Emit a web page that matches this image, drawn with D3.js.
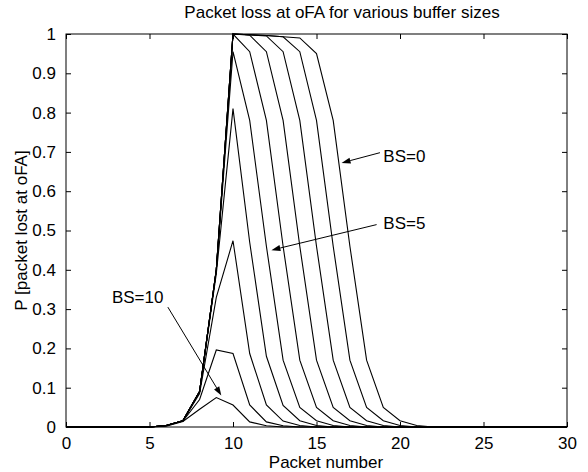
<!DOCTYPE html>
<html>
<head>
<meta charset="utf-8">
<script src="https://cdn.jsdelivr.net/npm/d3@7"></script>
<style>
  html, body { margin: 0; padding: 0; background: #fff; }
  svg text { font-family: "Liberation Sans", Arial, Helvetica, sans-serif; fill: #000; }
</style>
</head>
<body>
<svg id="chart" width="588" height="472"></svg>
<script>
// ---- data ----
const packetNumbers = d3.range(0, 31);
const bs0 = [0,0,0,0,0,0,0.004,0.016,0.09,0.40,1.000,0.998,0.996,0.993,0.990,0.950,0.780,0.460,0.170,0.050,0.016,0.004,0,0,0,0,0,0,0,0,0];
const bs1 = [0,0,0,0,0,0,0.004,0.016,0.09,0.40,1.000,0.998,0.996,0.993,0.955,0.780,0.460,0.170,0.050,0.016,0.004,0,0,0,0,0,0,0,0,0,0];
const bs2 = [0,0,0,0,0,0,0.004,0.016,0.09,0.40,1.000,0.998,0.995,0.955,0.780,0.460,0.170,0.050,0.016,0.004,0,0,0,0,0,0,0,0,0,0,0];
const bs3 = [0,0,0,0,0,0,0.004,0.016,0.09,0.40,1.000,0.997,0.955,0.780,0.460,0.170,0.050,0.016,0.004,0,0,0,0,0,0,0,0,0,0,0,0];
const bs4 = [0,0,0,0,0,0,0.004,0.016,0.09,0.40,1.000,0.955,0.780,0.460,0.170,0.050,0.016,0.004,0,0,0,0,0,0,0,0,0,0,0,0,0];
const bs5 = [0,0,0,0,0,0,0.004,0.016,0.09,0.40,0.955,0.780,0.460,0.170,0.050,0.016,0.004,0,0,0,0,0,0,0,0,0,0,0,0,0,0];
const bs6 = [0,0,0,0,0,0,0.004,0.016,0.09,0.39,0.810,0.470,0.180,0.055,0.016,0.004,0,0,0,0,0,0,0,0,0,0,0,0,0,0,0];
const bs7 = [0,0,0,0,0,0,0.004,0.016,0.085,0.33,0.474,0.187,0.056,0.015,0.004,0,0,0,0,0,0,0,0,0,0,0,0,0,0,0,0];
const bs8 = [0,0,0,0,0,0,0.003,0.015,0.07,0.196,0.187,0.056,0.013,0.003,0,0,0,0,0,0,0,0,0,0,0,0,0,0,0,0,0];
const bs9 = [0,0,0,0,0,0,0.002,0.014,0.045,0.075,0.056,0.013,0.003,0,0,0,0,0,0,0,0,0,0,0,0,0,0,0,0,0,0];
const seriesList = [bs0, bs1, bs2, bs3, bs4, bs5, bs6, bs7, bs8, bs9];

const xTicks = [0, 5, 10, 15, 20, 25, 30];
const yTicks = [0, 0.1, 0.2, 0.3, 0.4, 0.5, 0.6, 0.7, 0.8, 0.9, 1];
const yTickLabels = ["0", "0.1", "0.2", "0.3", "0.4", "0.5", "0.6", "0.7", "0.8", "0.9", "1"];

const titleText = "Packet loss at oFA for various buffer sizes";
const xLabelText = "Packet number";
const yLabelText = "P [packet lost at oFA]";

// annotations: label text, text anchor point (data units), arrow start and tip (data units)
const annotLabels = ["BS=0", "BS=5", "BS=10"];
const annotTextPos = [[19.0, 0.675], [19.0, 0.505], [2.75, 0.315]];
const annotFrom = [[18.8, 0.698], [18.6, 0.515], [6.1, 0.305]];
const annotTo = [[16.5, 0.672], [12.3, 0.450], [9.3, 0.080]];

// ---- layout ----
const margin = { left: 66, right: 21, top: 34, bottom: 45 };
const W = 588, H = 472;
const svg = d3.select("#chart");
const x = d3.scaleLinear().domain([0, 30]).range([margin.left, W - margin.right]);
const y = d3.scaleLinear().domain([0, 1]).range([H - margin.bottom, margin.top]);
const fs = 17;

// frame
svg.append("rect")
  .attr("x", x(0)).attr("y", y(1))
  .attr("width", x(30) - x(0)).attr("height", y(0) - y(1))
  .attr("fill", "none").attr("stroke", "#000").attr("stroke-width", 1);

// axes with inward ticks
const tickLen = 5;
const xAxisB = d3.axisBottom(x).tickValues(xTicks).tickSizeInner(-tickLen).tickSizeOuter(0).tickPadding(tickLen + 5).tickFormat(d3.format("d"));
const xAxisT = d3.axisTop(x).tickValues(xTicks).tickSizeInner(-tickLen).tickSizeOuter(0).tickFormat("");
const yAxisL = d3.axisLeft(y).tickValues(yTicks).tickSizeInner(-tickLen).tickSizeOuter(0).tickPadding(tickLen + 5).tickFormat((d, i) => yTickLabels[i]);
const yAxisR = d3.axisRight(y).tickValues(yTicks).tickSizeInner(-tickLen).tickSizeOuter(0).tickFormat("");

function styleAxis(g) {
  g.select(".domain").remove();
  g.selectAll(".tick line").attr("stroke", "#000");
  g.selectAll(".tick text").attr("font-size", fs).attr("font-family", "Liberation Sans, Arial, sans-serif").attr("fill", "#000");
}
svg.append("g").attr("transform", `translate(0,${y(0)})`).call(xAxisB).call(styleAxis);
svg.append("g").attr("transform", `translate(0,${y(1)})`).call(xAxisT).call(styleAxis);
svg.append("g").attr("transform", `translate(${x(0)},0)`).call(yAxisL).call(styleAxis);
svg.append("g").attr("transform", `translate(${x(30)},0)`).call(yAxisR).call(styleAxis);

// curves
const line = d3.line().x((d, i) => x(packetNumbers[i])).y(d => y(d));
svg.append("g").selectAll("path").data(seriesList).join("path")
  .attr("d", line)
  .attr("fill", "none").attr("stroke", "#000").attr("stroke-width", 1.1)
  .attr("stroke-linejoin", "miter");

// title and axis labels
svg.append("text").attr("x", 342).attr("y", 18)
  .attr("text-anchor", "middle").attr("font-size", fs).text(titleText);
svg.append("text").attr("x", 326).attr("y", 468)
  .attr("text-anchor", "middle").attr("font-size", fs).text(xLabelText);
svg.append("text")
  .attr("transform", `translate(27,${(y(0) + y(1)) / 2}) rotate(-90)`)
  .attr("text-anchor", "middle").attr("font-size", fs).text(yLabelText);

// annotations
const ann = svg.append("g");
annotLabels.forEach((lab, i) => {
  ann.append("text").attr("x", x(annotTextPos[i][0])).attr("y", y(annotTextPos[i][1]))
    .attr("font-size", fs).text(lab);
  const x1 = x(annotFrom[i][0]), y1 = y(annotFrom[i][1]);
  const x2 = x(annotTo[i][0]), y2 = y(annotTo[i][1]);
  const ang = Math.atan2(y2 - y1, x2 - x1);
  const L = 9, Wd = 3;
  const bx = x2 - L * Math.cos(ang), by = y2 - L * Math.sin(ang);
  ann.append("line").attr("x1", x1).attr("y1", y1).attr("x2", bx).attr("y2", by)
    .attr("stroke", "#000").attr("stroke-width", 1);
  const px = -Math.sin(ang), py = Math.cos(ang);
  ann.append("path")
    .attr("d", `M${x2},${y2}L${bx + Wd * px},${by + Wd * py}L${bx - Wd * px},${by - Wd * py}Z`)
    .attr("fill", "#000");
});
</script>
</body>
</html>
